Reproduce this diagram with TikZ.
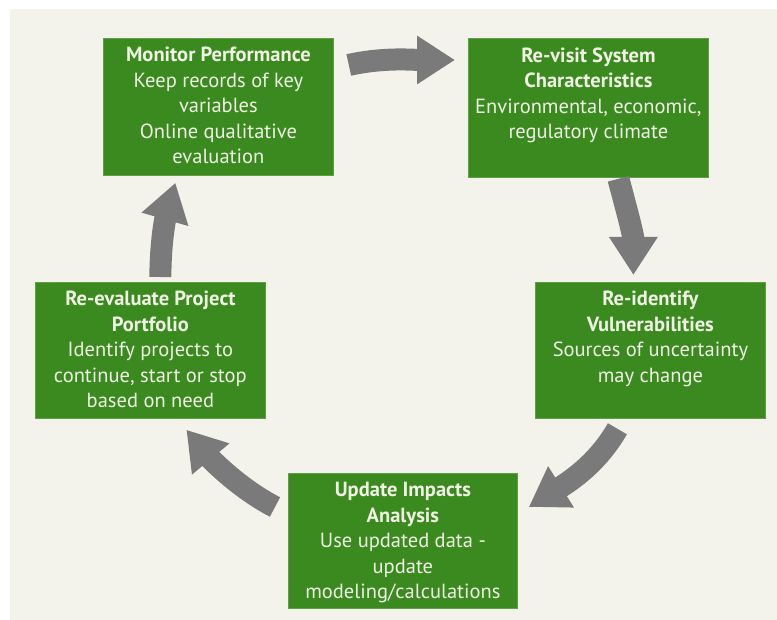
\documentclass[tikz,border=0pt]{standalone}
\usepackage{fontspec}
\setmainfont{PT Sans}
\usetikzlibrary{arrows.meta}
\definecolor{stagegreen}{RGB}{58,138,32}
\definecolor{stageedge}{RGB}{95,160,70}
\definecolor{stagetext}{RGB}{240,242,228}
\definecolor{cyclegray}{RGB}{122,122,122}
\definecolor{paper}{RGB}{243,243,236}

\begin{document}
\begin{tikzpicture}[x=1pt,y=-1pt,
    stage/.style={fill=stagegreen,draw=stageedge,line width=0.8pt,anchor=north west,
      inner xsep=5pt,inner ysep=9pt,text=stagetext,font=\fontsize{20.5}{25.5}\selectfont},
    cycle/.style={draw=cyclegray,line width=22pt,-{Triangle[length=38pt,width=46pt]}}]
    \useasboundingbox (0,0) rectangle (777,620);
    \fill[paper] (10,9) rectangle (777,620);
    % the five stages
    \node[stage] (monitor) at (103,38) {\parbox[t][119pt][t]{220pt}{\centering
      \textbf{Monitor Performance}\\Keep records of key\\variables\\Online qualitative\\evaluation}};
    \node[stage] (revisit) at (468,38) {\parbox[t][121pt][t]{230pt}{\centering
      \textbf{Re-visit System}\\\textbf{Characteristics}\\Environmental, economic,\\regulatory climate}};
    \node[stage] (reident) at (535,282) {\parbox[t][118pt][t]{220pt}{\centering
      \textbf{Re-identify}\\\textbf{Vulnerabilities}\\Sources of uncertainty\\may change}};
    \node[stage] (update) at (288,473) {\parbox[t][117pt][t]{219pt}{\centering
      \textbf{Update Impacts}\\\textbf{Analysis}\\Use updated data -\\update\\modeling/calculations}};
    \node[stage] (reeval) at (35,282) {\parbox[t][118pt][t]{220pt}{\centering
      \textbf{Re-evaluate Project}\\\textbf{Portfolio}\\Identify projects to\\continue, start or stop\\based on need}};
    % the cycle arrows
    \draw[cycle] ([shift={(15,27)}]monitor.north east) .. controls +(35,-8) and +(-40,0) .. ([shift={(-13,22)}]revisit.north west);
    \draw[cycle] ([shift={(30,1)}]revisit.south) .. controls +(8,30) and +(0,-40) .. ([shift={(-17,-7)}]reident.north);
    \draw[cycle] ([shift={(-33,10)}]reident.south) .. controls +(-20,35) and +(40,-25) .. ([shift={(11,34)}]update.north east);
    \draw[cycle] ([shift={(-13,34)}]update.north west) .. controls +(-35,-18) and +(25,30) .. ([shift={(36,11)}]reeval.south);
    \draw[cycle] ([shift={(10,-5)}]reeval.north) .. controls +(0,-35) and +(-10,35) .. ([shift={(-43,7)}]monitor.south);
\end{tikzpicture}
\end{document}
